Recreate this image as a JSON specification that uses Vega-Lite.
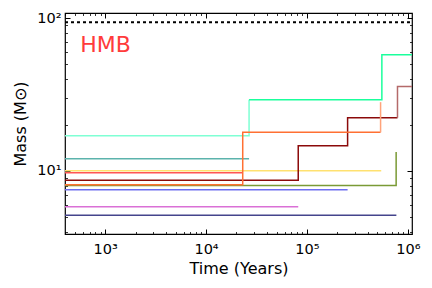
{
  "$schema": "https://vega.github.io/schema/vega-lite/v6.json",
  "width": 347,
  "height": 221,
  "autosize": {"type": "none"},
  "padding": {"left": 65, "top": 13, "right": 20, "bottom": 54},
  "config": {
    "view": {"stroke": "black", "strokeWidth": 1.2},
    "font": "DejaVu Sans",
    "axis": {"grid": false, "domain": false, "tickColor": "black", "tickWidth": 1, "labelColor": "black", "titleColor": "black", "titleFontWeight": "normal", "labelFont": "DejaVu Sans", "titleFont": "DejaVu Sans", "labelFlush": false, "labelOverlap": false}
  },
  "data": {
    "values": [
      {"kind": "s", "series": "teal", "t": 400, "m": 12.0},
      {"kind": "s", "series": "teal", "t": 26700, "m": 12.0},
      {"kind": "s", "series": "aqua", "t": 400, "m": 17.0},
      {"kind": "s", "series": "aqua", "t": 26700, "m": 29.2},
      {"kind": "s", "series": "yellow", "t": 400, "m": 10.04},
      {"kind": "s", "series": "yellow", "t": 545000, "m": 10.04},
      {"kind": "s", "series": "olive", "t": 400, "m": 8.05},
      {"kind": "s", "series": "olive", "t": 766000, "m": 13.3},
      {"kind": "s", "series": "red", "t": 400, "m": 9.75},
      {"kind": "s", "series": "red", "t": 23100, "m": 9.75},
      {"kind": "s", "series": "darkred", "t": 400, "m": 8.69},
      {"kind": "s", "series": "darkred", "t": 82000, "m": 14.6},
      {"kind": "s", "series": "darkred", "t": 253000, "m": 22.3},
      {"kind": "s", "series": "darkred", "t": 790000, "m": 22.3},
      {"kind": "s", "series": "orange", "t": 400, "m": 8.13},
      {"kind": "s", "series": "orange", "t": 23100, "m": 17.9},
      {"kind": "s", "series": "orange", "t": 537000, "m": 17.9},
      {"kind": "s", "series": "blue", "t": 400, "m": 7.54},
      {"kind": "s", "series": "blue", "t": 253000, "m": 7.54},
      {"kind": "s", "series": "orchid", "t": 400, "m": 5.83},
      {"kind": "s", "series": "orchid", "t": 82000, "m": 5.83},
      {"kind": "s", "series": "navy", "t": 400, "m": 5.14},
      {"kind": "s", "series": "navy", "t": 770000, "m": 5.14},
      {"kind": "s2", "series": "spring", "t": 26700, "m": 29.2},
      {"kind": "s2", "series": "spring", "t": 553000, "m": 57.6},
      {"kind": "s2", "series": "spring", "t": 1100000, "m": 57.6},
      {"kind": "s2", "series": "salmon", "t": 537000, "m": 17.9},
      {"kind": "s2", "series": "salmon", "t": 537000, "m": 28.2},
      {"kind": "s2", "series": "rosy", "t": 790000, "m": 22.3},
      {"kind": "s2", "series": "rosy", "t": 790000, "m": 35.7},
      {"kind": "s2", "series": "rosy", "t": 1100000, "m": 35.7},
      {"kind": "r", "t": 400, "m": 94.1},
      {"kind": "r", "t": 1100000, "m": 94.1},
      {"kind": "t", "t": 565, "m": 60.3, "label": "HMB"}
    ]
  },
  "resolve": {"axis": {"x": "independent", "y": "independent"}},
  "layer": [
    {
      "transform": [{"filter": "datum.kind == 's'"}],
      "mark": {"type": "line", "interpolate": "step-after", "strokeWidth": 1.5},
      "encoding": {
        "x": {"field": "t", "type": "quantitative", "scale": {"type": "log", "domain": [400, 1100000], "nice": false},
          "axis": {"orient": "bottom", "values": [1000, 10000, 100000, 1000000], "tickSize": -5, "labelPadding": 13, "labelFontSize": 14.5,
            "labelExpr": "datum.value == 1000 ? '10³' : datum.value == 10000 ? '10⁴' : datum.value == 100000 ? '10⁵' : datum.value == 1000000 ? '10⁶' : ''",
            "title": "Time (Years)", "titleFontSize": 16, "titlePadding": 5}},
        "y": {"field": "m", "type": "quantitative", "scale": {"type": "log", "domain": [3.87, 108], "nice": false},
          "axis": {"orient": "left", "values": [10, 100], "tickSize": -5, "labelPadding": 9, "labelFontSize": 14.5,
            "labelExpr": "datum.value == 10 ? '10¹' : datum.value == 100 ? '10²' : ''",
            "title": "Mass (M⊙)", "titleFontSize": 16, "titlePadding": 8}},
        "color": {"field": "series", "type": "nominal", "legend": null,
          "scale": {"domain": ["teal", "aqua", "yellow", "olive", "red", "darkred", "orange", "blue", "orchid", "navy", "spring", "salmon", "rosy"],
            "range": ["#5cb3ac", "#7fffd4", "#ffe170", "#7a9a35", "#ff5555", "#8b0a0a", "#ff7033", "#6e6ef0", "#da70d6", "#44448c", "#1aff9c", "#ffa37a", "#b46a6a"]}}
      }
    },
    {
      "transform": [{"filter": "datum.kind == 'r'"}],
      "mark": {"type": "line", "color": "black", "strokeWidth": 2, "strokeDash": [3, 3]},
      "encoding": {
        "x": {"field": "t", "type": "quantitative", "scale": {"type": "log", "domain": [400, 1100000], "nice": false},
          "axis": {"orient": "bottom", "values": [400, 500, 600, 700, 800, 900, 2000, 3000, 4000, 5000, 6000, 7000, 8000, 9000, 20000, 30000, 40000, 50000, 60000, 70000, 80000, 90000, 200000, 300000, 400000, 500000, 600000, 700000, 800000, 900000], "tickSize": -2.5, "tickWidth": 0.8, "labels": false, "title": null}},
        "y": {"field": "m", "type": "quantitative", "scale": {"type": "log", "domain": [3.87, 108], "nice": false},
          "axis": {"orient": "left", "values": [4, 5, 6, 7, 8, 9, 20, 30, 40, 50, 60, 70, 80, 90], "tickSize": -2.5, "tickWidth": 0.8, "labels": false, "title": null}}
      }
    },
    {
      "transform": [{"filter": "datum.kind == 's2'"}],
      "mark": {"type": "line", "interpolate": "step-after", "strokeWidth": 1.5},
      "encoding": {
        "x": {"field": "t", "type": "quantitative", "scale": {"type": "log", "domain": [400, 1100000], "nice": false},
          "axis": {"orient": "top", "values": [400, 500, 600, 700, 800, 900, 2000, 3000, 4000, 5000, 6000, 7000, 8000, 9000, 20000, 30000, 40000, 50000, 60000, 70000, 80000, 90000, 200000, 300000, 400000, 500000, 600000, 700000, 800000, 900000], "tickSize": -2.5, "tickWidth": 0.8, "labels": false, "title": null}},
        "y": {"field": "m", "type": "quantitative", "scale": {"type": "log", "domain": [3.87, 108], "nice": false},
          "axis": {"orient": "right", "values": [4, 5, 6, 7, 8, 9, 20, 30, 40, 50, 60, 70, 80, 90], "tickSize": -2.5, "tickWidth": 0.8, "labels": false, "title": null}},
        "color": {"field": "series", "type": "nominal", "legend": null}
      }
    },
    {
      "transform": [{"filter": "datum.kind == 't'"}],
      "mark": {"type": "text", "align": "left", "baseline": "alphabetic", "fontSize": 22, "color": "#ff3b3b", "font": "DejaVu Sans"},
      "encoding": {
        "x": {"field": "t", "type": "quantitative", "scale": {"type": "log", "domain": [400, 1100000], "nice": false},
          "axis": {"orient": "top", "values": [1000, 10000, 100000, 1000000], "tickSize": -5, "labels": false, "title": null}},
        "y": {"field": "m", "type": "quantitative", "scale": {"type": "log", "domain": [3.87, 108], "nice": false},
          "axis": {"orient": "right", "values": [10, 100], "tickSize": -5, "labels": false, "title": null}},
        "text": {"field": "label"}
      }
    }
  ]
}
